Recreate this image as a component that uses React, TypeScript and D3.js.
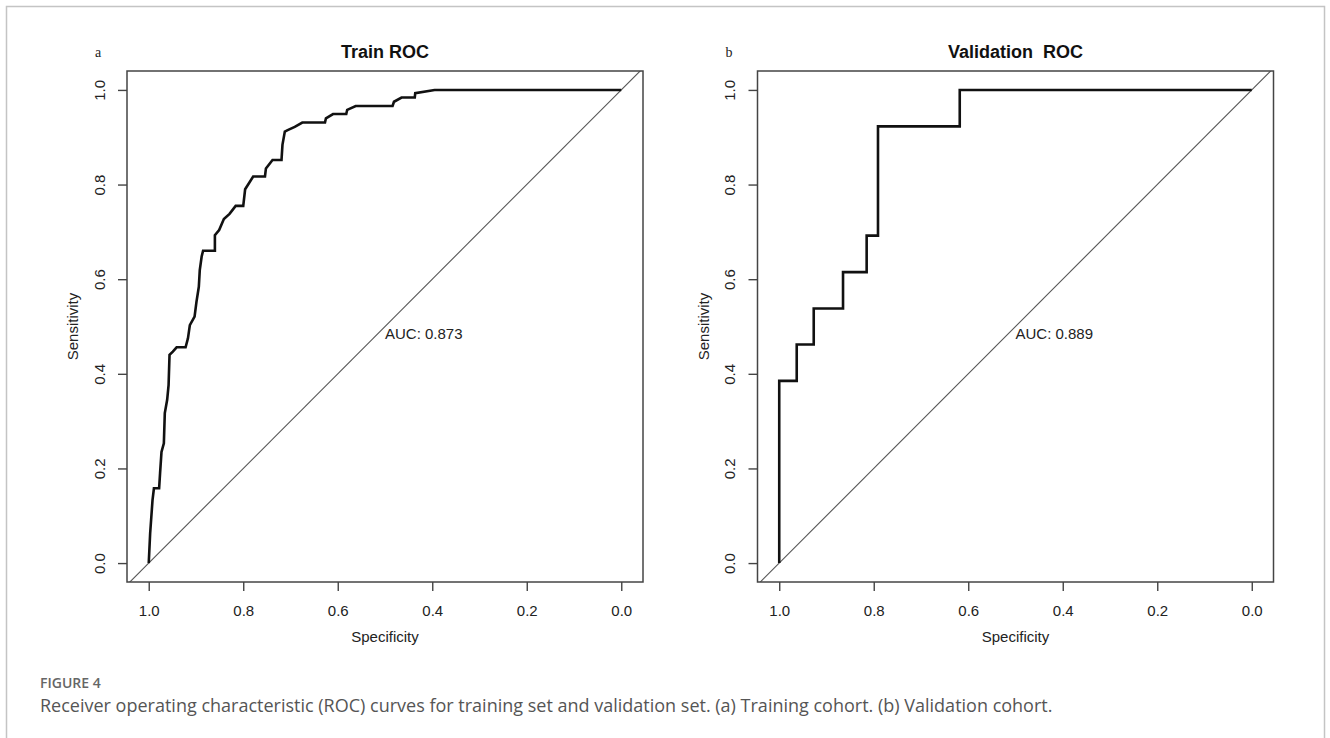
import React, { useEffect, useRef } from "react";
import * as d3 from "d3";

// Training cohort ROC points (specificity, sensitivity)
const trainSpec = [
  1.0, 0.997, 0.992, 0.989, 0.978, 0.976, 0.973, 0.968, 0.966, 0.961, 0.958, 0.956,
  0.949, 0.941, 0.922, 0.917, 0.913, 0.903, 0.899, 0.894, 0.892, 0.888, 0.885, 0.86,
  0.86, 0.851, 0.841, 0.829, 0.816, 0.8, 0.796, 0.779, 0.754, 0.752, 0.738, 0.719,
  0.717, 0.712, 0.706, 0.691, 0.675, 0.627, 0.625, 0.61, 0.582, 0.58, 0.562, 0.484,
  0.481, 0.465, 0.437, 0.436, 0.395, 0.0,
];
const trainSens = [
  0.0, 0.063, 0.133, 0.158, 0.158, 0.19, 0.235, 0.253, 0.317, 0.345, 0.376, 0.44,
  0.447, 0.456, 0.456, 0.475, 0.503, 0.521, 0.552, 0.584, 0.619, 0.648, 0.66, 0.66,
  0.693, 0.704, 0.727, 0.738, 0.755, 0.755, 0.79, 0.817, 0.817, 0.834, 0.852, 0.852,
  0.884, 0.912, 0.915, 0.922, 0.931, 0.931, 0.94, 0.949, 0.949, 0.958, 0.966, 0.966,
  0.975, 0.984, 0.984, 0.993, 1.0, 1.0,
];

// Validation cohort ROC points
const validSpec = [1.0, 1.0, 0.963, 0.963, 0.927, 0.927, 0.865, 0.865, 0.815, 0.815, 0.791, 0.791, 0.618, 0.618, 0.0];
const validSens = [0.0, 0.385, 0.385, 0.462, 0.462, 0.538, 0.538, 0.615, 0.615, 0.692, 0.692, 0.923, 0.923, 1.0, 1.0];

const ticks = [1.0, 0.8, 0.6, 0.4, 0.2, 0.0];

const panels = [
  { id: "a", title: "Train ROC", auc: "AUC: 0.873", spec: trainSpec, sens: trainSens, left: 127 },
  { id: "b", title: "Validation  ROC", auc: "AUC: 0.889", spec: validSpec, sens: validSens, left: 757.5 },
];

const sansFont = "Liberation Sans, Arial, sans-serif";

export default function App() {
  const svgRef = useRef<SVGSVGElement>(null);

  useEffect(() => {
    if (!svgRef.current) return;
    const width = 1330;
    const height = 738;
    const boxW = 516;
    const boxTop = 71;
    const boxBottom = 582;

    d3.select(svgRef.current).selectAll("*").remove();
    const svg = d3.select(svgRef.current)
      .attr("width", width)
      .attr("height", height)
      .attr("viewBox", [0, 0, width, height]);

    svg.append("rect")
      .attr("width", width)
      .attr("height", height)
      .attr("fill", "#fff");

    // figure frame
    svg.append("rect")
      .attr("x", 6.5)
      .attr("y", 6.5)
      .attr("width", 1318)
      .attr("height", 800)
      .attr("fill", "none")
      .attr("stroke", "#c4c4c4")
      .attr("stroke-width", 1.5);

    const defs = svg.append("defs");

    panels.forEach((p) => {
      const x = d3.scaleLinear().domain([1.046, -0.046]).range([p.left, p.left + boxW]);
      const y = d3.scaleLinear().domain([-0.04, 1.04]).range([boxBottom, boxTop]);
      const g = svg.append("g");

      defs.append("clipPath")
        .attr("id", `clip-${p.id}`)
        .append("rect")
        .attr("x", p.left)
        .attr("y", boxTop)
        .attr("width", boxW)
        .attr("height", boxBottom - boxTop);

      // chance diagonal
      g.append("line")
        .attr("clip-path", `url(#clip-${p.id})`)
        .attr("x1", x(1.1))
        .attr("y1", y(-0.1))
        .attr("x2", x(-0.1))
        .attr("y2", y(1.1))
        .attr("stroke", "#555")
        .attr("stroke-width", 1.1);

      // ROC curve
      const pts = p.spec.map((s, i) => [s, p.sens[i]] as [number, number]);
      const line = d3.line<[number, number]>()
        .x((d) => x(d[0]))
        .y((d) => y(d[1]));
      g.append("path")
        .datum(pts)
        .attr("d", line)
        .attr("fill", "none")
        .attr("stroke", "#111")
        .attr("stroke-width", 2.6)
        .attr("stroke-linejoin", "miter");

      // plot box
      g.append("rect")
        .attr("x", p.left)
        .attr("y", boxTop)
        .attr("width", boxW)
        .attr("height", boxBottom - boxTop)
        .attr("fill", "none")
        .attr("stroke", "#444")
        .attr("stroke-width", 1.5);

      // x axis
      const xAxis = g.append("g")
        .attr("transform", `translate(0,${boxBottom})`)
        .call(d3.axisBottom(x).tickValues(ticks).tickFormat(d3.format(".1f")).tickSize(9).tickPadding(14));
      xAxis.select(".domain").remove();
      xAxis.selectAll("line").attr("stroke", "#444").attr("stroke-width", 1.4);
      xAxis.selectAll("text")
        .attr("fill", "#222")
        .style("font-family", sansFont)
        .style("font-size", "15px");

      // y axis, labels rotated like R's default
      const yAxis = g.append("g")
        .attr("transform", `translate(${p.left},0)`)
        .call(d3.axisLeft(y).tickValues(ticks).tickFormat(d3.format(".1f")).tickSize(9));
      yAxis.select(".domain").remove();
      yAxis.selectAll("line").attr("stroke", "#444").attr("stroke-width", 1.4);
      yAxis.selectAll("text")
        .attr("fill", "#222")
        .attr("x", 0)
        .attr("y", 0)
        .attr("dy", null)
        .attr("text-anchor", "middle")
        .attr("transform", "translate(-22.5,0) rotate(-90)")
        .style("font-family", sansFont)
        .style("font-size", "15px");

      // axis titles
      g.append("text")
        .attr("x", (p.left * 2 + boxW) / 2)
        .attr("y", 642)
        .attr("text-anchor", "middle")
        .attr("fill", "#222")
        .style("font-family", sansFont)
        .style("font-size", "15px")
        .text("Specificity");

      g.append("text")
        .attr("transform", `translate(${p.left - 49},${(boxTop + boxBottom) / 2}) rotate(-90)`)
        .attr("text-anchor", "middle")
        .attr("fill", "#222")
        .style("font-family", sansFont)
        .style("font-size", "15px")
        .text("Sensitivity");

      // title
      g.append("text")
        .attr("x", (p.left * 2 + boxW) / 2)
        .attr("y", 58)
        .attr("text-anchor", "middle")
        .attr("fill", "#111")
        .style("font-family", sansFont)
        .style("font-size", "18px")
        .style("font-weight", "bold")
        .style("white-space", "pre")
        .text(p.title);

      // panel letter
      g.append("text")
        .attr("x", p.left - 32)
        .attr("y", 57)
        .attr("fill", "#222")
        .style("font-family", "Liberation Serif, serif")
        .style("font-size", "14px")
        .text(p.id);

      // AUC label, left-top anchored at (0.5, 0.5)
      g.append("text")
        .attr("x", x(0.5))
        .attr("y", y(0.5))
        .attr("dy", "0.8em")
        .attr("fill", "#222")
        .style("font-family", sansFont)
        .style("font-size", "15px")
        .text(p.auc);
    });

    // caption
    svg.append("text")
      .attr("x", 40)
      .attr("y", 688)
      .attr("fill", "#666")
      .style("font-family", "Open Sans, sans-serif")
      .style("font-size", "14px")
      .style("font-weight", "600")
      .text("FIGURE 4");

    svg.append("text")
      .attr("x", 40)
      .attr("y", 712)
      .attr("fill", "#555")
      .style("font-family", "Open Sans, sans-serif")
      .style("font-size", "18px")
      .text("Receiver operating characteristic (ROC) curves for training set and validation set. (a) Training cohort. (b) Validation cohort.");
  }, []);

  return (
    <div style={{ position: "absolute", left: 0, top: 0 }}>
      <svg ref={svgRef} style={{ display: "block" }}></svg>
    </div>
  );
}
